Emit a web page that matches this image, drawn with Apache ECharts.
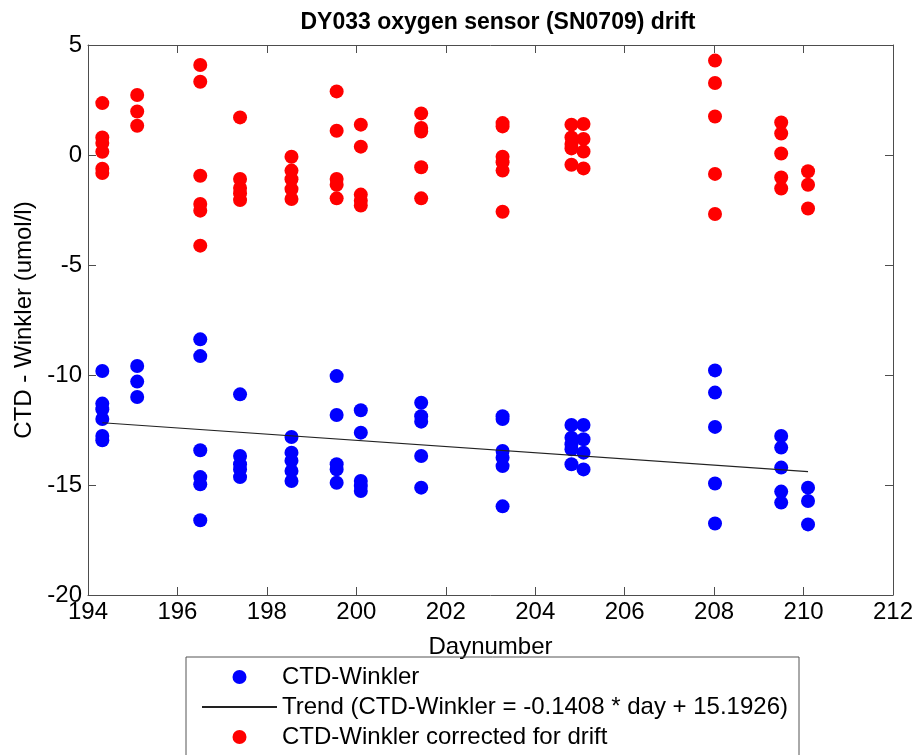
<!DOCTYPE html>
<html>
<head>
<meta charset="utf-8">
<script src="https://cdn.jsdelivr.net/npm/echarts@6/dist/echarts.min.js"></script>
<style>html,body{margin:0;padding:0;background:#fff;}#c{width:917px;height:755px;}</style>
</head>
<body>
<div id="c"></div>
<script>
// Station days (Daynumber)
const days = [194.32, 195.1, 196.51, 197.4, 198.55, 199.56, 200.1, 201.45, 203.27, 204.81, 205.08, 208.02, 209.5, 210.1];
// CTD - Winkler differences per station
const winkler = [
  [-9.82, -11.3, -11.56, -12.0, -12.77, -12.97],
  [-9.59, -10.3, -11.0],
  [-8.38, -9.14, -13.42, -14.64, -14.97, -16.6],
  [-10.88, -13.68, -14.06, -14.29, -14.64],
  [-12.82, -13.53, -13.9, -14.36, -14.82],
  [-10.05, -11.82, -14.06, -14.29, -14.9],
  [-11.6, -12.62, -14.82, -15.05, -15.27],
  [-11.26, -11.87, -12.12, -13.68, -15.12],
  [-11.87, -12.0, -13.45, -13.76, -14.14, -15.97],
  [-12.27, -12.85, -13.15, -13.38, -14.06],
  [-12.27, -12.92, -13.53, -14.29],
  [-9.79, -10.8, -12.36, -14.93, -16.75],
  [-12.77, -13.3, -14.21, -15.3, -15.8],
  [-15.12, -15.73, -16.79]
];
// CTD - Winkler corrected for drift
const corrected = [
  [2.36, 0.8, 0.55, 0.15, -0.62, -0.82],
  [2.73, 1.98, 1.33],
  [4.09, 3.33, -0.94, -2.23, -2.53, -4.12],
  [1.71, -1.09, -1.5, -1.75, -2.05],
  [-0.08, -0.71, -1.1, -1.55, -2.0],
  [2.89, 1.1, -1.09, -1.35, -1.97],
  [1.38, 0.38, -1.8, -2.08, -2.3],
  [1.89, 1.23, 1.07, -0.56, -1.97],
  [1.45, 1.3, -0.08, -0.33, -0.71, -2.58],
  [1.38, 0.8, 0.5, 0.3, -0.44],
  [1.41, 0.73, 0.16, -0.61],
  [4.29, 3.27, 1.75, -0.86, -2.68],
  [1.48, 0.98, 0.07, -1.02, -1.52],
  [-0.74, -1.35, -2.43]
];
// Trend line end points (day, value)
const trendDays = [194.32, 210.1];
const trendValues = [-12.17, -14.39];

const seriesNames = ['CTD-Winkler', 'Trend (CTD-Winkler = -0.1408 * day + 15.1926)', 'CTD-Winkler corrected for drift'];

function pairs(groups) {
  const out = [];
  groups.forEach((g, i) => g.forEach(v => out.push([days[i], v])));
  return out;
}

const font = 'Liberation Sans, Arial, Helvetica, sans-serif';
const axisCol = '#4d4d4d';

const chart = echarts.init(document.getElementById('c'), null, {renderer: 'canvas'});
const baseX = {
  type: 'value', min: 194, max: 212, interval: 2,
  axisLine: {show: true, onZero: false, lineStyle: {color: axisCol, width: 1}},
  axisTick: {show: true, inside: true, length: 8, lineStyle: {color: axisCol}},
  splitLine: {show: false}
};
const baseY = {
  type: 'value', min: -20, max: 5, interval: 5,
  axisLine: {show: true, onZero: false, lineStyle: {color: axisCol, width: 1}},
  axisTick: {show: true, inside: true, length: 8, lineStyle: {color: axisCol}},
  splitLine: {show: false}
};
chart.setOption({
  animation: false,
  backgroundColor: '#fff',
  title: {
    text: 'DY033 oxygen sensor (SN0709) drift',
    left: 493, top: 6, textAlign: 'center',
    textStyle: {fontFamily: font, fontSize: 23, fontWeight: 'bold', color: '#000'}
  },
  grid: {left: 88, top: 45, right: 24, bottom: 160, containLabel: false},
  xAxis: [
    Object.assign({}, baseX, {
      position: 'bottom',
      name: 'Daynumber', nameLocation: 'middle', nameGap: 40,
      nameTextStyle: {fontFamily: font, fontSize: 24, color: '#000'},
      axisLabel: {show: true, margin: 5, fontFamily: font, fontSize: 24, color: '#000'}
    }),
    Object.assign({}, baseX, {position: 'top', axisLabel: {show: false}})
  ],
  yAxis: [
    Object.assign({}, baseY, {
      position: 'left',
      name: 'CTD - Winkler (umol/l)', nameLocation: 'middle', nameGap: 50, nameRotate: 90,
      nameTextStyle: {fontFamily: font, fontSize: 24, color: '#000'},
      axisLabel: {show: true, margin: 6, fontFamily: font, fontSize: 24, color: '#000'}
    }),
    Object.assign({}, baseY, {position: 'right', axisLabel: {show: false}})
  ],
  legend: {
    orient: 'vertical',
    left: 186, top: 657, height: 140, width: 613,
    padding: [8, 11, 12, 15],
    itemWidth: 75, itemHeight: 14, itemGap: 6,
    borderColor: '#555', borderWidth: 1,
    textStyle: {fontFamily: font, fontSize: 24, color: '#000'},
    data: [
      {name: seriesNames[0], icon: 'circle'},
      {name: seriesNames[1], itemStyle: {opacity: 0}},
      {name: seriesNames[2], icon: 'circle'}
    ]
  },
  series: [
    {
      name: seriesNames[0], type: 'scatter', xAxisIndex: 0, yAxisIndex: 0,
      symbol: 'circle', symbolSize: 14,
      itemStyle: {color: '#0000ff', opacity: 1},
      data: pairs(winkler), z: 2
    },
    {
      name: seriesNames[1], type: 'line', xAxisIndex: 0, yAxisIndex: 0,
      symbol: 'none', showSymbol: false,
      lineStyle: {color: '#222', width: 1.2},
      itemStyle: {color: '#222'},
      data: trendDays.map((d, i) => [d, trendValues[i]]), z: 3
    },
    {
      name: seriesNames[2], type: 'scatter', xAxisIndex: 0, yAxisIndex: 0,
      symbol: 'circle', symbolSize: 14,
      itemStyle: {color: '#ff0000', opacity: 1},
      data: pairs(corrected), z: 2
    }
  ]
});
</script>
</body>
</html>
